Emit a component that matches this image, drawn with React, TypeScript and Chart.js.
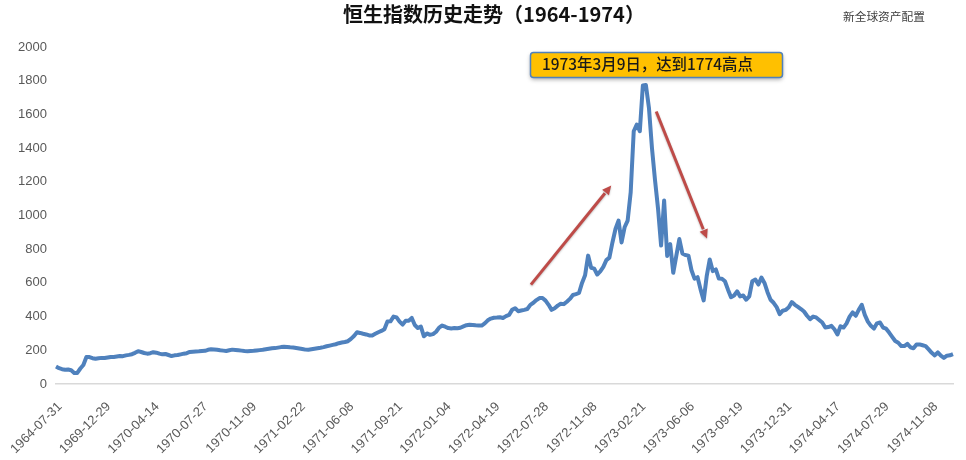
import React, { useEffect, useRef } from 'react';
import { Chart, registerables } from 'chart.js';

Chart.register(...registerables);

// one label every 16 points
const tickLabels = [
  '1964-07-31', '1969-12-29', '1970-04-14', '1970-07-27', '1970-11-09',
  '1971-02-22', '1971-06-08', '1971-09-21', '1972-01-04', '1972-04-19',
  '1972-07-28', '1972-11-08', '1973-02-21', '1973-06-06', '1973-09-19',
  '1973-12-31', '1974-04-17', '1974-07-29', '1974-11-08',
];
const tickEvery = 16;

const yTicksMax = 2000;
const yStep = 200;

// index values
const hsi = [
  104, 94, 88, 85, 86, 82, 66, 66, 92, 113, 160, 160, 153, 150, 153, 155,
  154, 157, 160, 160, 163, 166, 165, 170, 173, 177, 185, 195, 190, 184, 180, 183,
  189, 186, 180, 176, 178, 172, 166, 170, 172, 176, 180, 183, 190, 192, 193, 194,
  196, 197, 203, 206, 205, 203, 200, 198, 196, 200, 204, 202, 200, 198, 196, 195,
  196, 197, 199, 201, 203, 206, 209, 212, 213, 216, 219, 221, 220, 218, 217, 214,
  211, 208, 204, 203, 206, 209, 212, 215, 219, 224, 228, 232, 236, 242, 246, 249,
  254, 268, 285, 307, 303, 298, 294, 288, 288, 298, 307, 315, 325, 371, 372, 400,
  395, 370, 353, 375, 376, 392, 350, 332, 341, 283, 300, 292, 296, 310, 335, 347,
  340, 332, 330, 332, 331, 334, 342, 349, 352, 350, 348, 347, 347, 360, 378, 388,
  393, 394, 396, 392, 403, 410, 440, 450, 432, 436, 440, 445, 470, 482, 498, 510,
  510, 495, 470, 440, 450, 465, 476, 474, 488, 505, 528, 533, 540, 600, 645, 762,
  690, 685, 650, 668, 695, 735, 750, 840, 920, 970, 840, 930, 970, 1138, 1500, 1540,
  1500, 1771, 1774, 1640, 1400, 1210, 1040, 822, 1089, 760, 830, 660, 760, 860, 775, 765,
  762, 675, 625, 634, 560, 496, 640, 739, 670, 680, 626, 625, 610, 560, 515, 525,
  550, 520, 525, 500, 520, 610, 620, 590, 632, 600, 545, 500, 482, 456, 415, 435,
  440, 455, 486, 470, 458, 445, 430, 405, 385, 400, 395, 380, 365, 335, 338, 345,
  325, 294, 343, 335, 360, 400, 425, 405, 440, 470, 410, 370, 345, 329, 360, 365,
  335, 328, 305, 280, 255, 245, 225, 225, 238, 218, 212, 235, 235, 230, 225, 205,
  185, 170, 187, 168, 155, 168, 170, 177,
];

const titleText = '恒生指数历史走势（1964-1974）';
const sourceText = '新全球资产配置';
const calloutText = '1973年3月9日，达到1774高点';

// arrows as [fromIndex, fromValue, toIndex, toValue]
const riseArrow = [156.2, 590, 182.6, 1178];
const fallArrow = [197.4, 1617, 214.1, 863];

const cjk = '"Noto Sans CJK SC", "Liberation Sans", sans-serif';

const drawArrow = (chart: Chart, a: number[]) => {
  const { ctx, scales } = chart;
  const x0 = scales.x.getPixelForValue(a[0]);
  const y0 = scales.y.getPixelForValue(a[1]);
  const x1 = scales.x.getPixelForValue(a[2]);
  const y1 = scales.y.getPixelForValue(a[3]);
  const ang = Math.atan2(y1 - y0, x1 - x0);
  const head = 10;
  ctx.save();
  ctx.strokeStyle = '#BE4B48';
  ctx.fillStyle = '#BE4B48';
  ctx.lineWidth = 3;
  ctx.shadowColor = 'rgba(0,0,0,0.25)';
  ctx.shadowBlur = 2;
  ctx.shadowOffsetY = 1;
  ctx.beginPath();
  ctx.moveTo(x0, y0);
  ctx.lineTo(x1 - Math.cos(ang) * head, y1 - Math.sin(ang) * head);
  ctx.stroke();
  ctx.beginPath();
  ctx.moveTo(x1, y1);
  ctx.lineTo(x1 - Math.cos(ang - 0.45) * head, y1 - Math.sin(ang - 0.45) * head);
  ctx.lineTo(x1 - Math.cos(ang + 0.45) * head, y1 - Math.sin(ang + 0.45) * head);
  ctx.closePath();
  ctx.fill();
  ctx.restore();
};

const overlayPlugin = {
  id: 'overlay',
  afterDraw(chart: Chart) {
    const { ctx } = chart;
    drawArrow(chart, riseArrow);
    drawArrow(chart, fallArrow);

    ctx.save();
    ctx.textBaseline = 'middle';

    ctx.font = `bold 20px ${cjk}`;
    ctx.fillStyle = '#111111';
    ctx.textAlign = 'center';
    ctx.fillText(titleText, 494, 14);

    ctx.font = `11.7px ${cjk}`;
    ctx.fillStyle = '#404040';
    ctx.textAlign = 'left';
    ctx.fillText(sourceText, 843, 17);

    // callout box
    ctx.save();
    ctx.shadowColor = 'rgba(0,0,0,0.35)';
    ctx.shadowBlur = 4;
    ctx.shadowOffsetY = 2;
    ctx.fillStyle = '#FFC000';
    ctx.beginPath();
    ctx.roundRect(530.5, 52.5, 252, 25, 3);
    ctx.fill();
    ctx.restore();
    ctx.strokeStyle = '#4F81BD';
    ctx.lineWidth = 1.5;
    ctx.beginPath();
    ctx.roundRect(530.5, 52.5, 252, 25, 3);
    ctx.stroke();

    ctx.font = `500 15.4px ${cjk}`;
    ctx.fillStyle = '#1A1A1A';
    ctx.fillText(calloutText, 542, 64);
    ctx.restore();
  },
};

const App: React.FC = () => {
  const canvasRef = useRef<HTMLCanvasElement | null>(null);

  useEffect(() => {
    if (!canvasRef.current) return;
    document.body.style.margin = '0';

    const myChart = new Chart(canvasRef.current, {
      type: 'line',
      data: {
        labels: hsi.map((_, i) => String(i)),
        datasets: [{
          label: '恒生指数',
          data: hsi,
          borderColor: '#4F81BD',
          borderWidth: 4,
          pointRadius: 0,
          tension: 0,
          borderJoinStyle: 'round',
        }],
      },
      options: {
        animation: false,
        responsive: false,
        layout: { padding: { top: 47, right: 13, left: 0, bottom: 0 } },
        plugins: { legend: { display: false }, tooltip: { enabled: false } },
        scales: {
          x: {
            type: 'category',
            offset: false,
            afterFit: (scale: any) => {
              scale.height = 76;
              // rotated labels would otherwise push the plot area in
              scale.paddingLeft = 0;
              scale.paddingRight = 0;
            },
            grid: { display: false, drawTicks: false },
            border: { color: '#D9D9D9', width: 1.5 },
            ticks: {
              autoSkip: false,
              minRotation: 45,
              maxRotation: 45,
              padding: 15,
              labelOffset: 4,
              color: '#595959',
              font: { family: '"Liberation Sans"', size: 13 },
              callback: (_v: any, i: number) => (i % tickEvery === 0 ? tickLabels[i / tickEvery] : ''),
            },
          },
          y: {
            min: 0,
            max: yTicksMax,
            afterFit: (scale: any) => { scale.width = 56; },
            grid: { display: false, drawTicks: false },
            border: { display: false },
            ticks: {
              stepSize: yStep,
              padding: 9,
              color: '#595959',
              font: { family: '"Liberation Sans"', size: 13 },
              callback: (v: any) => String(v),
            },
          },
        },
      },
      plugins: [overlayPlugin],
    });

    return () => {
      myChart.destroy();
    };
  }, []);

  return <canvas ref={canvasRef} width={966} height={460} style={{ display: 'block' }} />;
};

export default App;
